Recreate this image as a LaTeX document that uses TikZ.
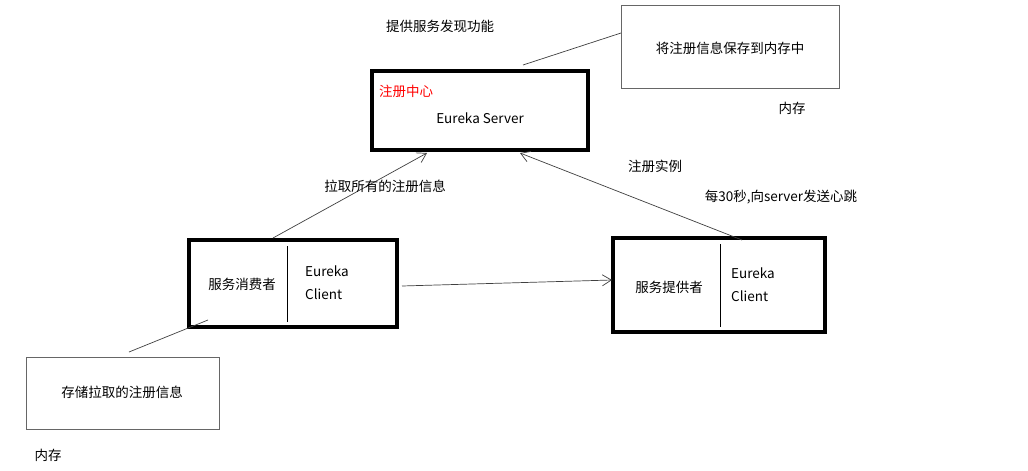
\documentclass[tikz,border=0pt]{standalone}
\usepackage{fontspec}
\setmainfont{Noto Sans CJK SC}
\usetikzlibrary{arrows.meta}
\begin{document}
\begin{tikzpicture}[x=1pt,y=-1pt,
  thickbox/.style={draw=black,line width=3.5pt},
  notebox/.style={draw=black!60,line width=0.6pt},
  conn/.style={draw=black!75,line width=0.7pt},
  arr/.style={conn,-{Straight Barb[length=9pt,width=11pt]}},
  txt/.style={font=\fontsize{13.5}{16}\selectfont,inner sep=0pt}]
\useasboundingbox[fill=white] (0,0) rectangle (1028,471);
% server
\draw[thickbox] (372,71) rectangle (588,150);
\coordinate (srvL) at (427,153);
\coordinate (srvR) at (520,153);
\node[txt,text=red,anchor=west] (zc) at (379,91) {注册中心};
\node[txt] (es) at (480,118) {Eureka Server};
\node[txt] (tg) at (440,26) {提供服务发现功能};
% top note
\draw[notebox] (621,5) rectangle (839,88);
\coordinate (tnL) at (621,33);
\coordinate (srvT) at (523,65);
\node[txt] (tn) at (730,48) {将注册信息保存到内存中};
\node[txt] (nc1) at (792,108) {内存};
\draw[conn] (tnL) -- (srvT);
% consumer
\draw[thickbox] (189,240) rectangle (397,327);
\draw[line width=0.8pt] (287,246) -- (287,322);
\node[txt] (cs) at (242,284) {服务消费者};
\node[txt,anchor=west,align=left] (cc) at (305,283) {Eureka\\[7pt]Client};
% provider
\draw[thickbox] (613,238) rectangle (825,332);
\draw[line width=0.8pt] (720,244) -- (720,327);
\node[txt] (ps) at (669,287) {服务提供者};
\node[txt,anchor=west,align=left] (pc) at (731,285) {Eureka\\[7pt]Client};
% bottom note
\draw[notebox] (26,357) rectangle (219,429);
\node[txt] (bn) at (122,392) {存储拉取的注册信息};
\node[txt] (nc2) at (48,455) {内存};
\coordinate (bnT) at (129,352);
\coordinate (csI) at (208,320);
\draw[conn] (bnT) -- (csI);
% arrows
\coordinate (csT) at (273,238);
\coordinate (psT) at (742,240);
\coordinate (csR) at (402,286);
\coordinate (psL) at (612,280);
\draw[arr] (csT) -- (srvL);
\draw[arr] (psT) -- (srvR);
\draw[arr] (csR) -- (psL);
\node[txt] (l1) at (385,186) {拉取所有的注册信息};
\node[txt] (l2) at (655,166) {注册实例};
\node[txt] (l3) at (781,197) {每30秒,向server发送心跳};
\end{tikzpicture}
\end{document}
